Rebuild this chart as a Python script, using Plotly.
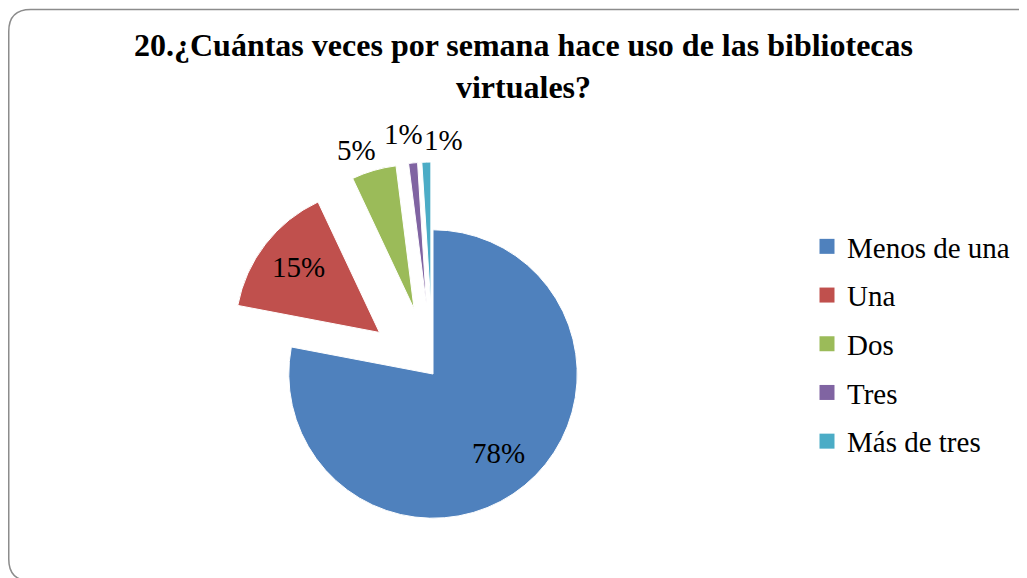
import math
import plotly.graph_objects as go

title_text = "20.¿Cuántas veces por semana hace uso de las bibliotecas<br>virtuales?"
labels = ["Menos de una", "Una", "Dos", "Tres", "Más de tres"]
values = [78, 15, 5, 1, 1]
colors = ["#4F81BD", "#C0504D", "#9BBB59", "#8064A2", "#4BACC6"]

# style (not data)
pulls = [0, 0.47, 0.47, 0.47, 0.47]
label_inside = [True, True, False, False, False]
label_xshift = [0, 0, -9, -7, 18]
label_yshift = [0, 3, -7, 0, -7]

W, H = 1027, 578
OFF = 8  # page body margin offset of the figure on screen
FONT = "Liberation Serif"


def sx(x):
    return (x - OFF) / W


def sy(y):
    return 1 - (y - OFF) / H


# pie placement (screen pixels)
CX, CY = 433, 374
HALF = 212
R = 2 * HALF / (2 * (1 + max(pulls)))

fig = go.Figure()

fig.add_trace(go.Pie(
    labels=labels, values=values, sort=False, direction="clockwise", rotation=0,
    pull=pulls, marker=dict(colors=colors, line=dict(color="white", width=1)),
    textinfo="none",
    domain=dict(x=[sx(CX - HALF - 10), sx(CX + HALF + 10)],
                y=[sy(CY + HALF), sy(CY - HALF)]),
    showlegend=False, hoverinfo="label+percent",
))

# legend entries
for lab, col in zip(labels, colors):
    fig.add_trace(go.Scatter(
        x=[None], y=[None], mode="markers", name=lab, legendgroup=lab,
        marker=dict(symbol="square", size=15, color=col),
    ))

# percentage labels placed along each slice's mid-angle
total = sum(values)
annotations = []
cum = 0
for v, p, ins, xs, ys in zip(values, pulls, label_inside, label_xshift, label_yshift):
    mid = math.radians((cum + v / 2) / total * 360)
    cum += v
    dx, dy = math.sin(mid), -math.cos(mid)
    k = p + (0.71 if ins else 1.2)
    lx = CX + k * R * dx
    ly = CY + k * R * dy
    annotations.append(dict(
        x=sx(lx), y=sy(ly), xref="paper", yref="paper",
        text=f"{round(100 * v / total)}%", showarrow=False, xshift=xs, yshift=ys,
        font=dict(family=FONT, size=29, color="black"),
        xanchor="center", yanchor="middle",
    ))

L, T, Rr, B, rc = 8.75, 9.5, 1039, 581, 22
path = (f"M {sx(L)},{sy(T + rc)} Q {sx(L)},{sy(T)} {sx(L + rc)},{sy(T)} "
        f"L {sx(Rr - rc)},{sy(T)} Q {sx(Rr)},{sy(T)} {sx(Rr)},{sy(T + rc)} "
        f"L {sx(Rr)},{sy(B - rc)} Q {sx(Rr)},{sy(B)} {sx(Rr - rc)},{sy(B)} "
        f"L {sx(L + rc)},{sy(B)} Q {sx(L)},{sy(B)} {sx(L)},{sy(B - rc)} Z")

fig.update_layout(
    width=W, height=H,
    margin=dict(l=0, r=0, t=0, b=0, autoexpand=False),
    paper_bgcolor="white", plot_bgcolor="white",
    font=dict(family=FONT, color="black"),
    title=dict(text="<b>" + title_text + "</b>", x=sx(523.5), xanchor="center",
               y=sy(56), yanchor="top", automargin=False,
               font=dict(family=FONT, size=32, color="black")),
    xaxis=dict(visible=False, range=[0, 1]),
    yaxis=dict(visible=False, range=[0, 1]),
    legend=dict(x=sx(807), xanchor="left", y=sy(221), yanchor="top",
                font=dict(family=FONT, size=29, color="black"),
                tracegroupgap=8, bgcolor="rgba(0,0,0,0)"),
    annotations=annotations,
    shapes=[dict(type="path", xref="paper", yref="paper", path=path,
                 line=dict(color="#8c8c8c", width=1.5), layer="above")],
)

fig.write_html("out.html")
